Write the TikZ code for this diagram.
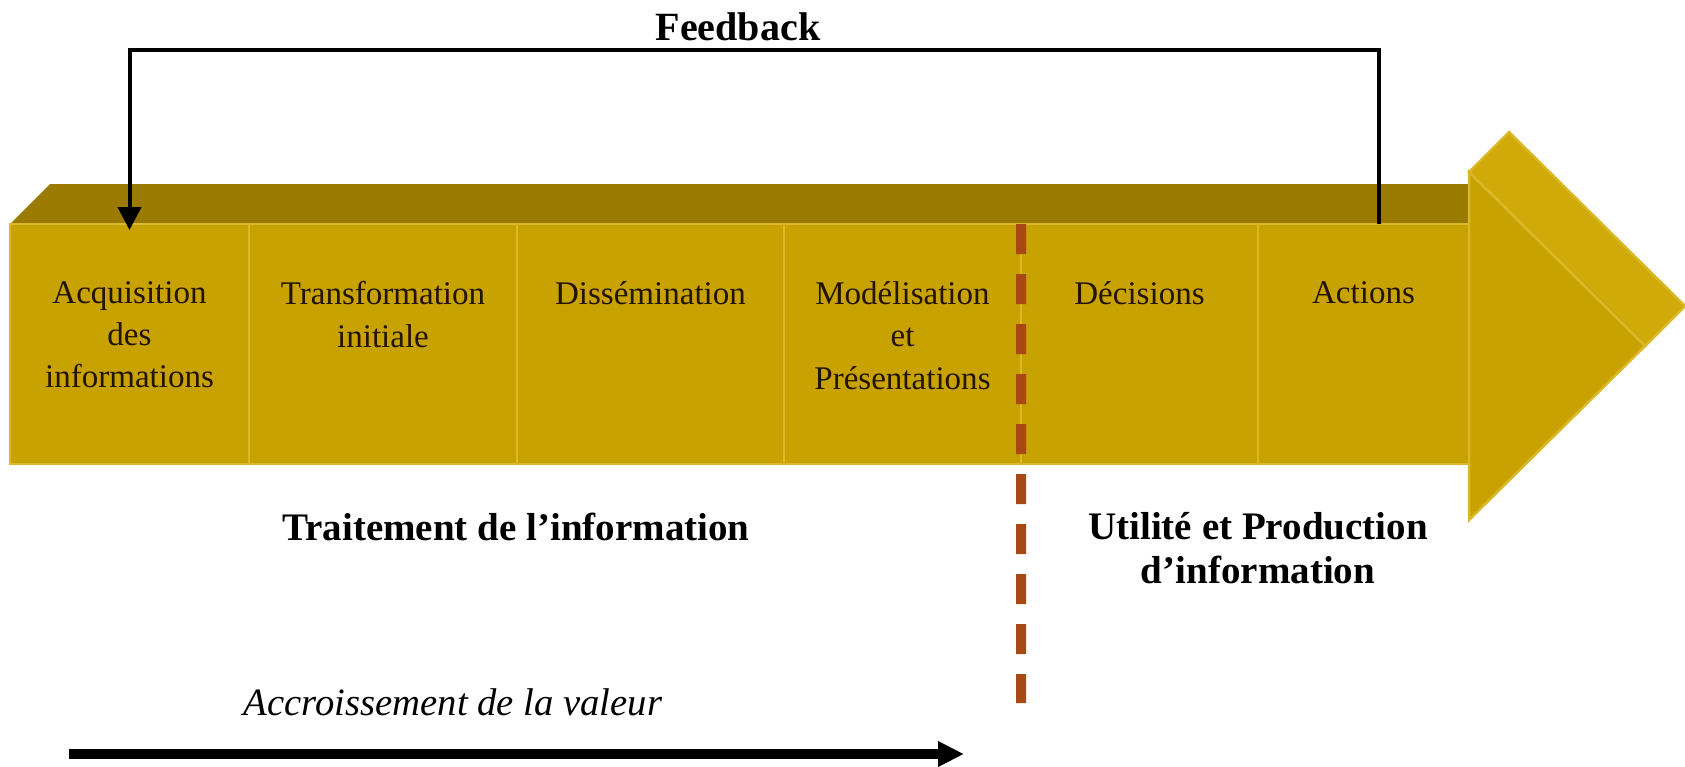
\documentclass[tikz,border=0pt]{standalone}
\usepackage{fontspec}
\setmainfont{Liberation Serif}
\usepackage{xcolor}
\usepackage{tikz}
\usetikzlibrary{positioning,arrows.meta}

\definecolor{orface}{RGB}{200,162,0}
\definecolor{ortop}{RGB}{154,123,0}
\definecolor{orpointe}{RGB}{207,170,8}
\definecolor{orfilet}{RGB}{218,184,40}
\definecolor{brique}{RGB}{168,72,20}
\definecolor{encre}{RGB}{35,20,0}

\begin{document}
\begin{tikzpicture}[
  x=0.1mm, y=0.1mm,
  cell/.style={draw=orfilet, fill=orface, line width=0.25mm, outer sep=0pt, inner sep=0pt, minimum height=24mm},
  lbl/.style={align=center, inner sep=0pt, text=encre, font=\fontsize{9.4}{12}\selectfont},
  titre/.style={align=center, inner sep=0pt, font=\bfseries\fontsize{11.1}{12.5}\selectfont},
  seuil/.style={draw=brique, line width=1mm, dash pattern=on 3mm off 2mm},
  fb/.style={draw, line width=0.4mm, -{Triangle[length=2.3mm,width=2.3mm]}},
  croiss/.style={draw, line width=1mm, -{Triangle[length=2.6mm,width=2.4mm]}}
]
\useasboundingbox (0,0) rectangle (1685,766);

% dessus de la grande fleche
\fill[ortop] (10,542) -- (50,582) -- (1509,582) -- (1469,542) -- cycle;

\node[cell, minimum width=23.9mm, anchor=south west] (acq) at (10,302) {};
\node[cell, minimum width=26.8mm, right=0pt of acq] (trans) {};
\node[cell, minimum width=26.7mm, right=0pt of trans] (diss) {};
\node[cell, minimum width=23.7mm, right=0pt of diss] (mod) {};
\node[cell, minimum width=23.7mm, right=0pt of mod] (dec) {};
\node[cell, minimum width=21.1mm, right=0pt of dec] (act) {};

% pointe
\filldraw[draw=orfilet, fill=orpointe, line width=0.25mm] (1469,594) -- (1509,634) -- (1685,460) -- (1645,420) -- cycle;
\filldraw[draw=orfilet, fill=orface, line width=0.25mm] (1469,594) -- (1645,420) -- (1469,246) -- cycle;

\node[lbl, below=5.7mm of acq.north] (tacq) {Acquisition\\des\\informations};
\node[lbl, below=5.7mm of trans.north] (ttrans) {Transformation\\initiale};
\node[lbl, below=5.7mm of diss.north] (tdiss) {Dissémination};
\node[lbl, below=5.7mm of mod.north] (tmod) {Modélisation\\et\\Présentations};
\node[lbl, below=5.7mm of dec.north] (tdec) {Décisions};
\node[lbl, below=5.7mm of act.north] (tact) {Actions};

\node[titre, anchor=base] (traitement) at (516,226) {Traitement de l’information};
\node[titre, anchor=north] (utilite) at (1258,254) {Utilité et Production\\d’information};
\node[titre, font=\bfseries\fontsize{11.4}{13}\selectfont, anchor=base] (fbtxt) at (738,726) {Feedback};
\node[lbl, text=black, font=\itshape\fontsize{11}{13}\selectfont, anchor=base] (valeur) at (453,51) {Accroissement de la valeur};

\coordinate (basseuil) at (1021,63);
\draw[seuil] (mod.north east) -- (basseuil);

\draw[fb] ([xshift=1.5mm]act.north) -- ++(0,174) -| ([yshift=-0.6mm]acq.north);

\coordinate (debut) at (69,12);
\coordinate (fin) at (964,12);
\draw[croiss] (debut) -- (fin);
\end{tikzpicture}
\end{document}
